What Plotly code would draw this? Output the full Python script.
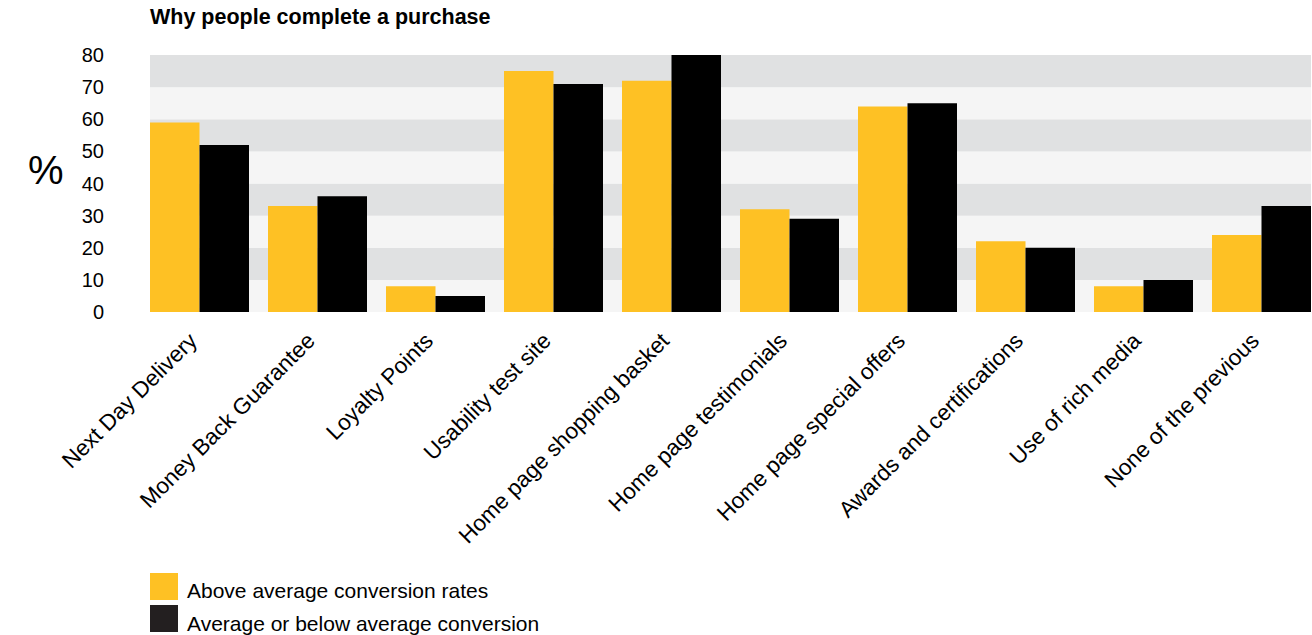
import plotly.graph_objects as go

# Survey results: share (%) of respondents citing each reason
categories = [
    "Next Day Delivery",
    "Money Back Guarantee",
    "Loyalty Points",
    "Usability test site",
    "Home page shopping basket",
    "Home page testimonials",
    "Home page special offers",
    "Awards and certifications",
    "Use of rich media",
    "None of the previous",
]
above_average = [59, 33, 8, 75, 72, 32, 64, 22, 8, 24]
below_average = [52, 36, 5, 71, 80, 29, 65, 20, 10, 33]

series_names = ["Above average conversion rates", "Average or below average conversion"]
y_ticks = [0, 10, 20, 30, 40, 50, 60, 70, 80]

YELLOW = "#fec124"
BLACK = "#000000"
LEGEND_BLACK = "#231f20"
BAND_DARK = "#e0e1e2"
BAND_LIGHT = "#f5f5f5"
TEXT = "#000000"
FONT = "Liberation Sans, Arial, Helvetica, sans-serif"

W, H = 1312, 635
M_L, M_R, M_T, M_B = 150, 1, 55, 323
PLOT_W = W - M_L - M_R
PLOT_H = H - M_T - M_B

group_width = 0.839  # fraction of a category slot covered by the bar pair

fig = go.Figure()
fig.add_trace(go.Bar(x=categories, y=above_average, name=series_names[0],
                     marker=dict(color=YELLOW, line=dict(width=0)), showlegend=False))
fig.add_trace(go.Bar(x=categories, y=below_average, name=series_names[1],
                     marker=dict(color=BLACK, line=dict(width=0)), showlegend=False))

# Alternating horizontal background bands, one per 10 % step
shapes = []
for i in range(len(y_ticks) - 1):
    shapes.append(dict(
        type="rect", xref="paper", yref="y", layer="below",
        x0=0, x1=1, y0=y_ticks[i], y1=y_ticks[i + 1],
        fillcolor=BAND_DARK if i % 2 == 1 else BAND_LIGHT, line=dict(width=0),
    ))


def px_to_paper_x(px):
    return (px - M_L) / PLOT_W


def px_to_paper_y(py):
    return (H - M_B - py) / PLOT_H


# Hand-built legend with large colour swatches under the chart
annotations = []
legend_rows = [(series_names[0], YELLOW, 573), (series_names[1], LEGEND_BLACK, 605)]
for name, color, top in legend_rows:
    shapes.append(dict(
        type="rect", xref="paper", yref="paper",
        x0=px_to_paper_x(150), x1=px_to_paper_x(178),
        y0=px_to_paper_y(top + 27), y1=px_to_paper_y(top),
        fillcolor=color, line=dict(width=0),
    ))
    annotations.append(dict(
        xref="paper", yref="paper", x=px_to_paper_x(185), y=px_to_paper_y(top + 18),
        xanchor="left", yanchor="middle", text=name, showarrow=False,
        font=dict(family=FONT, size=21, color=TEXT),
    ))

# Large "%" unit marker left of the value axis
annotations.append(dict(
    xref="paper", yref="paper", x=px_to_paper_x(45.5), y=px_to_paper_y(170),
    xanchor="center", yanchor="middle", text="%", showarrow=False,
    font=dict(family=FONT, size=40, color=TEXT),
))

fig.update_layout(
    width=W, height=H,
    margin=dict(l=M_L, r=M_R, t=M_T, b=M_B, pad=0),
    paper_bgcolor="white", plot_bgcolor="white",
    barmode="group", bargap=1 - group_width, bargroupgap=0,
    title=dict(
        text="<b>Why people complete a purchase</b>",
        xref="container", yref="container",
        x=150 / W, xanchor="left", y=1 - 16 / H, yanchor="middle",
        font=dict(family=FONT, size=21.5, color=TEXT),
    ),
    xaxis=dict(
        range=[-group_width / 2, len(categories) - 1 + group_width / 2],
        tickangle=-45, showgrid=False, zeroline=False, showline=False,
        ticks="", ticklabelshift=-9, ticklabelstandoff=10,
        tickfont=dict(family=FONT, size=22.5, color=TEXT),
    ),
    yaxis=dict(
        range=[0, 80], tickvals=y_ticks, showgrid=False, zeroline=False,
        showline=False, ticks="", ticklabelstandoff=45,
        tickfont=dict(family=FONT, size=20, color=TEXT),
    ),
    shapes=shapes,
    annotations=annotations,
    showlegend=False,
)

fig.write_html("out.html")
